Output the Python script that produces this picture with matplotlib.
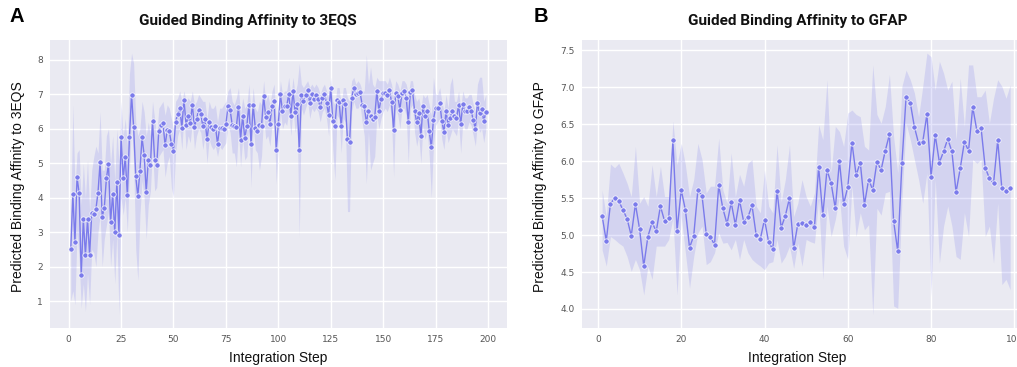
import matplotlib
matplotlib.use("Agg")
import matplotlib.pyplot as plt

# ---------------- data: panel A (3EQS) ----------------
steps_3eqs = list(range(1, 200))
mean_3eqs = [
    2.50, 4.10, 2.71, 4.59, 4.14, 1.76, 3.38, 2.33, 3.38, 2.34,
    3.56, 3.52, 3.67, 4.15, 5.03, 3.45, 3.71, 4.56, 4.98, 3.29,
    4.12, 3.00, 4.46, 2.93, 5.77, 4.56, 5.18, 4.07, 5.76, 6.99,
    6.05, 4.62, 4.05, 4.79, 5.75, 5.25, 4.18, 5.09, 4.94, 6.24,
    5.11, 4.94, 5.95, 6.10, 6.17, 5.52, 5.96, 5.93, 5.57, 5.37,
    6.21, 6.42, 6.60, 6.04, 6.85, 6.12, 6.36, 6.17, 6.70, 6.05,
    6.29, 6.54, 6.44, 6.08, 6.28, 5.70, 6.19, 6.05, 6.00, 6.09,
    5.57, 6.04, 6.04, 6.01, 6.13, 6.65, 6.56, 6.12, 6.08, 6.06,
    6.64, 5.69, 6.38, 5.73, 6.09, 6.70, 5.55, 6.70, 6.04, 5.94,
    6.12, 6.08, 6.95, 6.35, 6.48, 6.15, 6.65, 6.81, 5.39, 6.13,
    7.00, 6.52, 6.66, 6.66, 7.01, 6.38, 7.10, 6.49, 6.71, 5.39,
    6.97, 6.82, 6.98, 7.14, 6.75, 7.00, 6.87, 6.97, 6.86, 6.63,
    6.89, 7.01, 6.75, 6.41, 7.20, 6.23, 6.09, 6.85, 6.79, 6.08,
    6.83, 6.72, 5.70, 5.61, 6.91, 7.18, 7.00, 7.05, 7.06, 6.70,
    6.67, 6.19, 6.51, 6.38, 6.28, 6.35, 7.09, 6.53, 6.87, 7.03,
    7.03, 6.97, 7.12, 6.79, 5.96, 7.05, 6.95, 6.56, 7.05, 7.11,
    6.91, 6.21, 7.06, 7.12, 6.53, 6.19, 6.45, 5.78, 6.65, 6.38,
    6.52, 5.94, 5.46, 6.27, 6.60, 6.61, 6.76, 6.24, 5.90, 6.51,
    6.12, 6.33, 6.52, 6.36, 6.32, 6.68, 6.13, 6.71, 6.52, 6.53,
    6.63, 6.53, 6.25, 6.01, 6.76, 6.45, 6.59, 6.23, 6.48,
]
lo_3eqs = [
    1.0, 1.3, 0.9, 3.0, 2.2, 0.8, 1.5, 0.7, 1.8, 0.9,
    2.5, 2.4, 2.0, 3.0, 3.5, 2.0, 2.8, 3.2, 3.6, 2.0,
    2.8, 1.5, 3.0, 0.6, 4.0, 3.5, 4.0, 3.0, 4.8, 6.2,
    5.0, 2.5, 1.6, 3.5, 4.5, 4.0, 2.8, 3.8, 4.2, 5.4,
    4.2, 4.3, 5.2, 5.3, 5.4, 4.6, 5.0, 5.2, 4.3, 4.0,
    5.3, 5.8, 6.0, 5.4, 6.4, 5.4, 5.8, 5.6, 6.2, 5.4,
    5.8, 6.0, 5.9, 5.4, 5.8, 5.0, 5.7, 5.5, 5.4, 5.5,
    5.2, 5.5, 5.4, 5.5, 5.6, 6.1, 5.9, 5.3, 5.3, 4.9,
    6.0, 4.9, 5.7, 5.1, 5.2, 6.2, 4.3, 6.1, 5.4, 5.3,
    4.8, 5.2, 6.4, 5.7, 5.8, 5.5, 6.1, 6.3, 4.4, 5.5,
    6.5, 6.0, 6.2, 6.1, 6.5, 5.8, 6.6, 5.9, 6.2, 2.85,
    6.6, 6.4, 6.6, 6.8, 6.3, 6.6, 6.5, 6.6, 6.5, 6.2,
    6.5, 6.6, 6.3, 5.8, 6.8, 5.4, 4.5, 6.4, 6.3, 5.3,
    6.3, 6.2, 3.6, 3.6, 6.5, 6.8, 6.6, 6.6, 6.7, 6.2,
    5.8, 4.4, 5.9, 4.8, 5.0, 5.2, 6.4, 6.0, 6.3, 6.5,
    6.6, 6.5, 6.7, 6.3, 4.6, 6.6, 6.4, 6.0, 6.6, 6.6,
    6.4, 5.0, 6.6, 6.7, 5.9, 5.5, 5.8, 5.0, 6.1, 5.7,
    6.0, 5.2, 4.0, 5.5, 6.1, 6.2, 6.3, 5.7, 5.4, 6.0,
    5.6, 5.8, 6.0, 5.9, 5.8, 6.2, 5.3, 6.2, 6.0, 6.0,
    6.2, 6.1, 5.8, 5.5, 6.2, 5.9, 6.0, 5.6, 6.0,
]
hi_3eqs = [
    3.4, 6.7, 4.3, 5.3, 5.4, 3.8, 5.0, 4.0, 5.1, 3.6,
    4.8, 5.2, 5.5, 5.3, 6.5, 4.8, 4.8, 5.8, 6.0, 5.0,
    5.8, 4.5, 6.0, 5.0, 6.8, 5.8, 6.3, 5.5, 7.6, 8.2,
    7.9, 6.2, 5.8, 6.0, 6.8, 6.5, 5.8, 6.2, 5.8, 6.8,
    6.3, 5.8, 6.6, 6.7, 6.8, 6.4, 6.7, 6.6, 6.3, 6.0,
    6.8, 6.9, 7.1, 6.8, 7.1, 6.8, 6.9, 6.8, 7.1, 6.7,
    6.8, 7.0, 6.9, 6.8, 6.8, 6.3, 6.8, 6.6, 6.6, 6.7,
    6.2, 6.6, 6.6, 6.7, 6.8, 7.1, 7.2, 6.8, 6.7, 6.9,
    7.2, 6.4, 6.9, 6.6, 6.7, 7.3, 6.4, 7.2, 6.6, 6.5,
    6.8, 6.7, 7.4, 6.8, 7.0, 6.7, 7.1, 7.3, 6.2, 6.7,
    7.4, 7.0, 7.1, 7.1, 7.5, 6.9, 7.5, 7.0, 7.3, 7.9,
    7.3, 7.2, 7.3, 7.4, 7.2, 7.3, 7.2, 7.3, 7.2, 7.0,
    7.2, 7.3, 7.1, 6.9, 7.5, 6.8, 6.7, 7.2, 7.2, 6.7,
    7.2, 7.2, 6.9, 6.8, 7.4, 7.5, 7.3, 7.4, 7.3, 7.1,
    7.1, 8.15, 7.3, 7.8, 7.3, 7.2, 7.5, 7.4, 7.4, 7.4,
    7.4, 7.3, 7.5, 7.3, 6.9, 7.4, 7.3, 7.1, 7.4, 7.4,
    7.3, 7.0, 7.4, 7.4, 7.0, 6.8, 6.9, 6.6, 7.0, 6.9,
    7.0, 6.7, 6.4, 7.5, 7.0, 7.0, 7.2, 6.8, 6.5, 7.0,
    6.6, 7.3, 7.5, 6.8, 6.8, 7.1, 6.6, 7.1, 6.9, 6.9,
    7.0, 7.0, 6.7, 6.5, 7.3, 7.5, 7.5, 6.8, 7.0,
]

# ---------------- data: panel B (GFAP) ----------------
steps_gfap = list(range(1, 100))
mean_gfap = [
    5.26, 4.92, 5.42, 5.50, 5.46, 5.34, 5.22, 4.99, 5.42, 5.08,
    4.58, 4.98, 5.17, 5.05, 5.39, 5.19, 5.23, 6.28, 5.06, 5.61,
    5.34, 4.83, 4.99, 5.61, 5.53, 5.02, 4.97, 4.87, 5.67, 5.36,
    5.15, 5.44, 5.14, 5.47, 5.18, 5.24, 5.40, 5.00, 4.95, 5.21,
    4.90, 4.81, 5.60, 5.10, 5.26, 5.50, 4.82, 5.15, 5.16, 5.14,
    5.17, 5.11, 5.92, 5.27, 5.88, 5.70, 5.36, 6.00, 5.42, 5.65,
    6.25, 5.81, 5.98, 5.41, 5.75, 5.61, 5.99, 5.88, 6.14, 6.36,
    5.19, 4.78, 5.97, 6.87, 6.79, 6.46, 6.24, 6.26, 6.63, 5.79,
    6.35, 5.98, 6.13, 6.30, 6.13, 5.58, 5.90, 6.26, 6.14, 6.73,
    6.41, 6.45, 5.91, 5.77, 5.70, 6.28, 5.63, 5.60, 5.64,
]
lo_gfap = [
    4.80, 4.58, 4.98, 4.94, 4.89, 4.85, 4.71, 4.51, 4.67, 4.53,
    4.19, 4.58, 4.40, 4.85, 4.85, 4.85, 4.94, 5.23, 4.19, 5.25,
    4.76, 4.28, 4.71, 5.03, 5.12, 4.60, 4.64, 4.76, 5.03, 4.89,
    4.90, 4.80, 4.94, 4.67, 4.94, 4.76, 4.67, 4.62, 4.58, 4.53,
    4.62, 4.64, 4.94, 4.62, 4.71, 4.85, 4.55, 4.89, 4.58, 4.94,
    4.91, 4.89, 5.48, 4.40, 5.39, 4.98, 5.21, 5.52, 4.85, 4.67,
    5.66, 4.98, 5.30, 5.07, 5.14, 3.92, 5.36, 5.27, 5.57, 5.59,
    4.04, 4.01, 5.48, 6.51, 6.29, 6.02, 5.75, 5.43, 5.84, 4.17,
    5.75, 4.62, 5.12, 5.39, 5.12, 4.71, 4.67, 5.30, 4.98, 6.02,
    5.97, 6.02, 4.98, 5.12, 4.62, 5.43, 4.33, 4.40, 4.26,
]
hi_gfap = [
    5.61, 5.25, 5.96, 5.91, 5.97, 5.84, 5.70, 5.52, 6.20, 5.43,
    5.52, 5.39, 5.95, 5.52, 5.93, 5.52, 5.52, 6.54, 5.95, 6.24,
    5.95, 5.52, 5.75, 6.24, 6.02, 5.57, 5.66, 5.66, 6.31, 5.61,
    5.43, 6.11, 5.52, 5.82, 5.66, 5.97, 6.02, 5.39, 5.30, 5.88,
    5.39, 5.30, 6.22, 5.45, 5.75, 6.22, 5.25, 5.43, 5.75, 5.52,
    5.39, 5.57, 6.49, 6.29, 7.10, 5.84, 6.47, 6.40, 6.20, 6.65,
    6.69, 6.63, 6.60, 6.20, 6.15, 7.30, 6.63, 6.51, 6.74, 7.17,
    6.33, 5.84, 7.01, 7.23, 7.10, 6.92, 6.60, 7.01, 7.46, 7.41,
    6.96, 7.35, 7.19, 6.96, 7.08, 6.29, 7.12, 6.47, 7.30, 7.30,
    6.87, 6.87, 6.96, 6.51, 6.85, 7.10, 7.01, 6.85, 7.03,
]

titles = ["Guided Binding Affinity to 3EQS", "Guided Binding Affinity to GFAP"]
ylabels = ["Predicted Binding Affinity to 3EQS", "Predicted Binding Affinity to GFAP"]
xlabel = "Integration Step"
panel_letters = ["A", "B"]

# ---------------- styling ----------------
W, H = 1017, 367
BG = "#EAEAF2"
LINE = "#7B7BEB"
TICKC = "#555555"

fig = plt.figure(figsize=(W / 100, H / 100), dpi=100)
fig.patch.set_facecolor("white")

def px_rect(x0, x1, ytop, ybot):
    return [x0 / W, 1 - ybot / H, (x1 - x0) / W, (ybot - ytop) / H]

A_X0, A_X1 = 50, 506.6
B_X0, B_X1 = 581.7, 1030.6
Y_TOP, Y_BOT = 40, 328
axA = fig.add_axes(px_rect(A_X0, A_X1, Y_TOP, Y_BOT))
axB = fig.add_axes(px_rect(B_X0, B_X1, Y_TOP, Y_BOT))

panels = [
    (axA, steps_3eqs, mean_3eqs, lo_3eqs, hi_3eqs),
    (axB, steps_gfap, mean_gfap, lo_gfap, hi_gfap),
]

for ax, x, m, lo, hi in panels:
    ax.set_facecolor(BG)
    for s in ax.spines.values():
        s.set_visible(False)
    ax.grid(True, color="white", linewidth=1.0)
    ax.set_axisbelow(True)
    ax.fill_between(x, lo, hi, color=LINE, alpha=0.2, linewidth=0)
    ax.plot(x, m, color=LINE, linewidth=1.0, marker="o", markersize=3.8,
            markerfacecolor=LINE, markeredgecolor="white", markeredgewidth=0.5)
    ax.margins(x=0.05, y=0.05)
    ax.tick_params(axis="both", length=0, labelsize=6.5, labelcolor=TICKC, pad=5)
    for lbl in ax.get_xticklabels() + ax.get_yticklabels():
        lbl.set_fontfamily("DejaVu Sans")

axA.set_xticks([0, 25, 50, 75, 100, 125, 150, 175, 200])
axA.set_yticks([1, 2, 3, 4, 5, 6, 7, 8])
axB.set_xticks([0, 20, 40, 60, 80, 100])
axB.set_yticks([4.0, 4.5, 5.0, 5.5, 6.0, 6.5, 7.0, 7.5])
axB.yaxis.set_major_formatter(matplotlib.ticker.FormatStrFormatter("%.1f"))

label_font = dict(family=["Liberation Sans", "DejaVu Sans"], size=10, color="#111111")
for ax, yl in zip([axA, axB], ylabels):
    ax.set_xlabel(xlabel, **label_font)
    ax.set_ylabel(yl, **label_font)

ax_h = Y_BOT - Y_TOP
xl_top = 351
axA.xaxis.set_label_coords(0.5, -(xl_top - Y_BOT) / ax_h)
axB.xaxis.set_label_coords((797 - B_X0) / (B_X1 - B_X0), -(xl_top - Y_BOT) / ax_h)
axA.yaxis.set_label_coords(-(A_X0 - 25) / (A_X1 - A_X0), 0.49)
axB.yaxis.set_label_coords(-(B_X0 - 547) / (B_X1 - B_X0), 0.49)

title_font = dict(family=["Roboto", "DejaVu Sans"], size=11, weight="bold", color="#111111")
fig.text(248 / W, 1 - 21 / H, titles[0], ha="center", va="center", **title_font)
fig.text(798 / W, 1 - 21 / H, titles[1], ha="center", va="center", **title_font)

letter_font = dict(family=["Liberation Sans", "DejaVu Sans"], size=14.5, weight="bold", color="black")
fig.text(9 / W, 1 - 17 / H, panel_letters[0], ha="left", va="center", **letter_font)
fig.text(534 / W, 1 - 17 / H, panel_letters[1], ha="left", va="center", **letter_font)

fig.savefig("out.png", dpi=100, facecolor="white")
